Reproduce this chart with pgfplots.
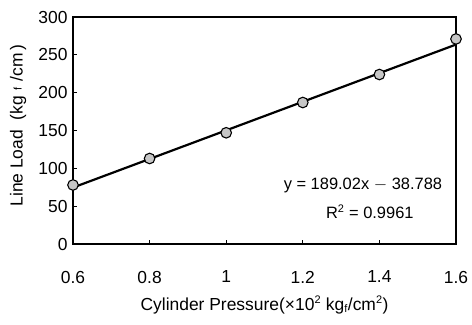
\documentclass[border=0pt]{standalone}
\usepackage{pgfplots}
\pgfplotsset{compat=1.18}
\usetikzlibrary{calc}
\usepackage{fontspec}
\setmainfont{Liberation Sans}
\newcommand{\sm}[1]{\mbox{\fontsize{11}{11}\selectfont #1}}
\begin{document}
\begin{tikzpicture}
\begin{axis}[
  scale only axis,
  width=383bp, height=227bp,
  xmin=0.6, xmax=1.6, ymin=0, ymax=300,
  xtick={0.6,0.8,1,1.2,1.4,1.6},
  ytick={0,50,100,150,200,250,300},
  xticklabels={0.6,0.8,1,1.2,1.4,1.6},
  tick align=inside,
  xtick pos=bottom, ytick pos=left,
  major tick length=4bp,
  axis line style={line width=1.3pt},
  tick style={black, line width=0.8pt},
  /pgf/number format/assume math mode=true,
  tick label style={font=\fontsize{17.5}{20}\selectfont},
  xticklabel style={anchor=center, yshift=-33bp},
  yticklabel style={xshift=-2bp},
  xlabel={Cylinder Pressure(\texttimes10$^{\sm{2}}$ kg$_{\sm{f}}$/cm$^{\sm{2}}$)},
  ylabel={Line Load \ (kg\,\,\raisebox{1bp}{\sm{f}}\,\,/cm\,)},
  label style={font=\fontsize{17.5}{20}\selectfont},
  xlabel style={at={(axis description cs:0.5,-0.2687)}, anchor=center},
  ylabel style={at={(axis description cs:-0.1436,0.522)}, anchor=center},
  clip=false,
]
\addplot[black, line width=2.2pt] coordinates {(0.6,74.6) (1.6,263.6)};
\addplot[only marks, mark=*, mark size=5.3bp, mark options={fill=gray!45, draw=black, line width=1.1pt}]
  coordinates {(0.6,78) (0.8,113) (1.0,147) (1.2,187) (1.4,224) (1.6,271)};
\node[anchor=center, font=\fontsize{16.5}{19}\selectfont] at (axis cs:1.357,77) {y = 189.02x $-$ 38.788};
\node[anchor=center, font=\fontsize{16.5}{19}\selectfont] at (axis cs:1.375,42.5) {R$^{\sm{2}}$ = 0.9961};
\end{axis}
\pgfresetboundingbox
\path ($(current axis.south west)+(-73bp,-81bp)$) rectangle ($(current axis.north east)+(16bp,17bp)$);
\end{tikzpicture}
\end{document}
